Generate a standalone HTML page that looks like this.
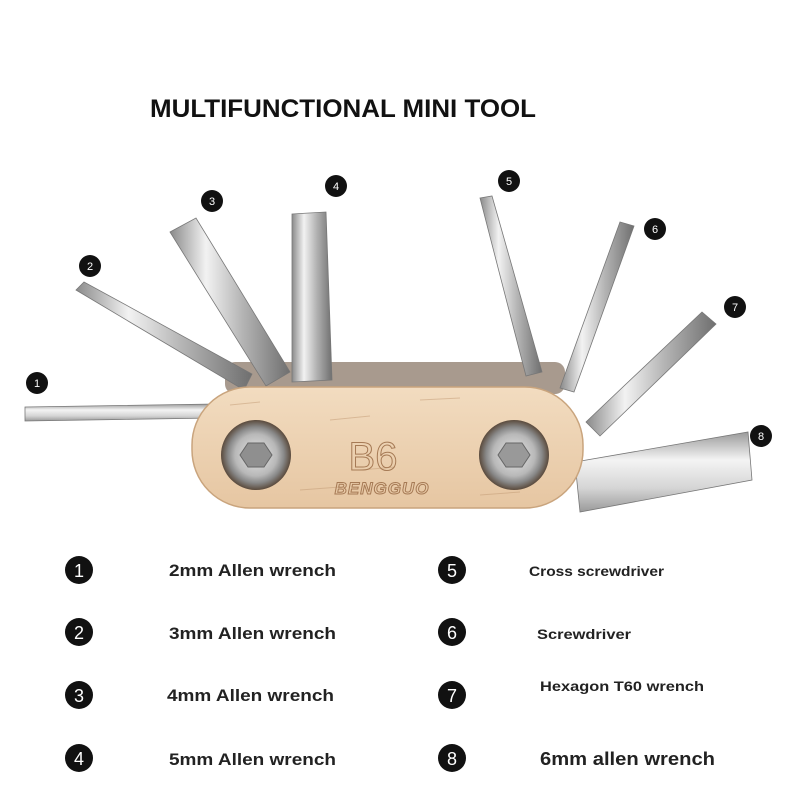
<!DOCTYPE html>
<html><head><style>
body{margin:0;background:#fff;}
svg text{font-family:"Liberation Sans",sans-serif;}
</style></head><body>
<svg width="800" height="800" viewBox="0 0 800 800" xmlns="http://www.w3.org/2000/svg">
<defs>
<linearGradient id="st" x1="0" y1="0" x2="1" y2="0">
<stop offset="0" stop-color="#8a8a8a"/><stop offset="0.3" stop-color="#f2f2f2"/><stop offset="0.6" stop-color="#b5b5b5"/><stop offset="1" stop-color="#6f6f6f"/></linearGradient>
<linearGradient id="sv" x1="0" y1="0" x2="0" y2="1">
<stop offset="0" stop-color="#9a9a9a"/><stop offset="0.35" stop-color="#f4f4f4"/><stop offset="0.7" stop-color="#d5d5d5"/><stop offset="1" stop-color="#9a9a9a"/></linearGradient>
<linearGradient id="wood" x1="0" y1="0" x2="0" y2="1">
<stop offset="0" stop-color="#f2dcc0"/><stop offset="1" stop-color="#e6c6a2"/></linearGradient>
<radialGradient id="bolt"><stop offset="0" stop-color="#e8e8e8"/><stop offset="0.6" stop-color="#b8b8b8"/><stop offset="0.8" stop-color="#888"/><stop offset="1" stop-color="#5a4a3c"/></radialGradient>
</defs>
<text x="343" y="117" font-size="25" font-weight="bold" text-anchor="middle" fill="#111" textLength="386" lengthAdjust="spacingAndGlyphs">MULTIFUNCTIONAL MINI TOOL</text>

<rect x="225" y="362" width="340" height="32" rx="10" fill="#a89a8e"/>
<g stroke="#777" stroke-width="0.8">
<polygon points="25,407 215,404 215,418 25,421" fill="url(#sv)"/>
<polygon points="76,290 84,282 252,374 244,390" fill="url(#st)"/>
<polygon points="170,232 196,218 290,372 266,386" fill="url(#st)"/>
<polygon points="292,214 326,212 332,380 292,382" fill="url(#st)"/>
<polygon points="480,198 492,196 542,372 526,376" fill="url(#st)"/>
<polygon points="620,222 634,226 574,392 560,388" fill="url(#st)"/>
<polygon points="702,312 716,324 600,436 586,422" fill="url(#st)"/>
<polygon points="575,462 748,432 752,480 580,512" fill="url(#sv)"/>
</g>
<rect x="192" y="387" width="391" height="121" rx="58" fill="url(#wood)" stroke="#c9a47d" stroke-width="1.5"/>
<g stroke="#c29a74" stroke-width="1" opacity="0.5">
<line x1="230" y1="405" x2="260" y2="402"/><line x1="330" y1="420" x2="370" y2="416"/><line x1="420" y1="400" x2="460" y2="398"/><line x1="300" y1="490" x2="340" y2="487"/><line x1="480" y1="495" x2="520" y2="492"/><line x1="360" y1="470" x2="395" y2="467"/></g>
<circle cx="256" cy="455" r="35" fill="url(#bolt)"/>
<polygon points="248,443 264,443 272,455 264,467 248,467 240,455" fill="#8f8f8f" stroke="#666"/>
<circle cx="514" cy="455" r="35" fill="url(#bolt)"/>
<polygon points="506,443 522,443 530,455 522,467 506,467 498,455" fill="#999" stroke="#666"/>
<text x="373" y="470" font-size="40" font-family="Liberation Serif" fill="none" stroke="#a67a55" text-anchor="middle">B6</text>
<text x="382" y="494" font-size="17" font-style="italic" font-weight="bold" fill="none" stroke="#a67a55" text-anchor="middle" letter-spacing="1">BENGGUO</text>

<g font-size="11" fill="#fff" text-anchor="middle">
<circle cx="37" cy="383" r="11" fill="#111"/><text x="37" y="387">1</text>
<circle cx="90" cy="266" r="11" fill="#111"/><text x="90" y="270">2</text>
<circle cx="212" cy="201" r="11" fill="#111"/><text x="212" y="205">3</text>
<circle cx="336" cy="186" r="11" fill="#111"/><text x="336" y="190">4</text>
<circle cx="509" cy="181" r="11" fill="#111"/><text x="509" y="185">5</text>
<circle cx="655" cy="229" r="11" fill="#111"/><text x="655" y="233">6</text>
<circle cx="735" cy="307" r="11" fill="#111"/><text x="735" y="311">7</text>
<circle cx="761" cy="436" r="11" fill="#111"/><text x="761" y="440">8</text>
</g>

<g font-size="18" fill="#fff" text-anchor="middle">
<circle cx="79" cy="570" r="14" fill="#111"/><text x="79" y="577">1</text>
<circle cx="79" cy="632" r="14" fill="#111"/><text x="79" y="639">2</text>
<circle cx="79" cy="695" r="14" fill="#111"/><text x="79" y="702">3</text>
<circle cx="79" cy="758" r="14" fill="#111"/><text x="79" y="765">4</text>
<circle cx="452" cy="570" r="14" fill="#111"/><text x="452" y="577">5</text>
<circle cx="452" cy="632" r="14" fill="#111"/><text x="452" y="639">6</text>
<circle cx="452" cy="695" r="14" fill="#111"/><text x="452" y="702">7</text>
<circle cx="452" cy="758" r="14" fill="#111"/><text x="452" y="765">8</text>
</g>
<g font-weight="bold" fill="#222">
<text x="169" y="576" font-size="17" textLength="167" lengthAdjust="spacingAndGlyphs">2mm Allen wrench</text>
<text x="169" y="639" font-size="17" textLength="167" lengthAdjust="spacingAndGlyphs">3mm Allen wrench</text>
<text x="167" y="701" font-size="17" textLength="167" lengthAdjust="spacingAndGlyphs">4mm Allen wrench</text>
<text x="169" y="765" font-size="17" textLength="167" lengthAdjust="spacingAndGlyphs">5mm Allen wrench</text>
<text x="529" y="576" font-size="14" textLength="135" lengthAdjust="spacingAndGlyphs">Cross screwdriver</text>
<text x="537" y="639" font-size="14" textLength="94" lengthAdjust="spacingAndGlyphs">Screwdriver</text>
<text x="540" y="691" font-size="14" textLength="164" lengthAdjust="spacingAndGlyphs">Hexagon T60 wrench</text>
<text x="540" y="765" font-size="18" textLength="175" lengthAdjust="spacingAndGlyphs">6mm allen wrench</text>
</g>
</svg>
</body></html>
